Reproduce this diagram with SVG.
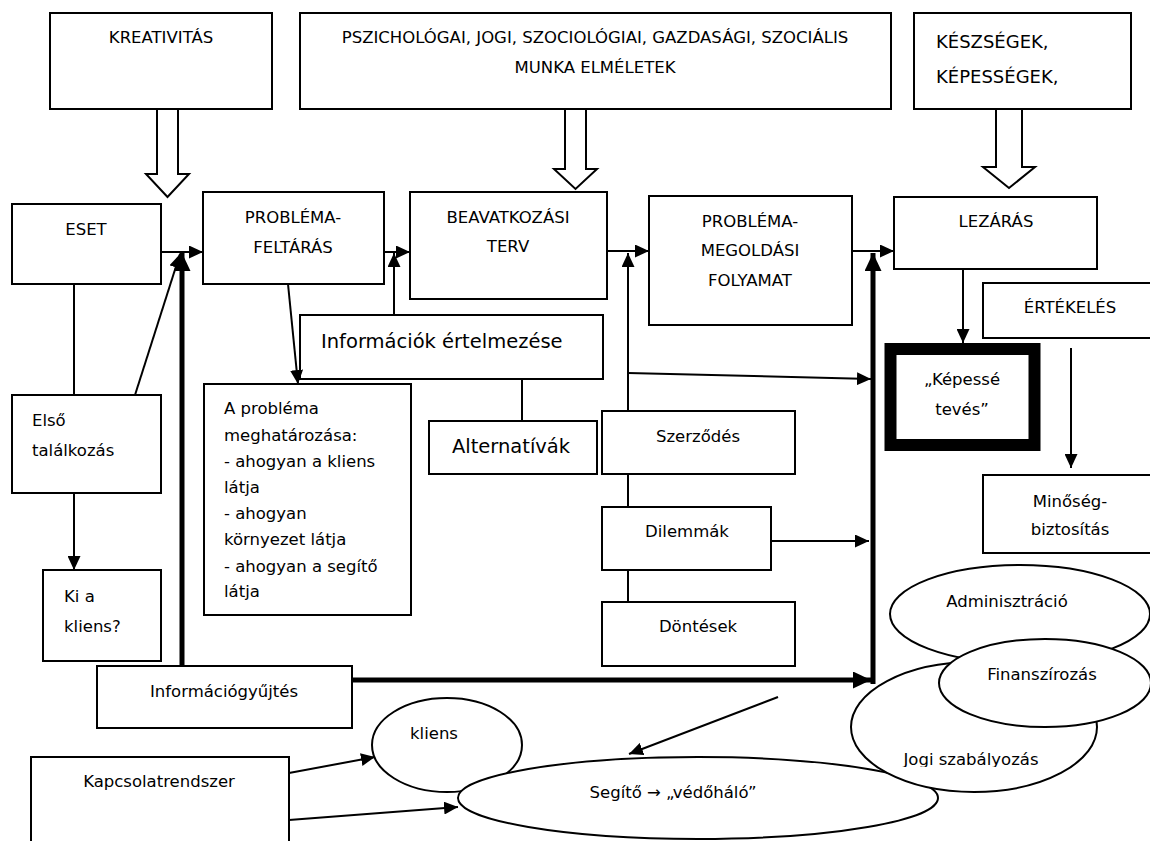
<svg xmlns="http://www.w3.org/2000/svg" width="1150" height="841" viewBox="0 0 1150 841">
<style>
.b{fill:#fff;stroke:#000;stroke-width:2}
.h{fill:#fff;stroke:#000;stroke-width:2;stroke-linejoin:miter}
.e{fill:#fff;stroke:#000;stroke-width:2}
.t{font-family:"DejaVu Sans",sans-serif;font-size:16.5px;fill:#000}
.c{text-anchor:middle}
.big{font-size:19.5px}
.k{font-size:18px}
.l{fill:none;stroke:#000;stroke-width:2}
.L{fill:none;stroke:#000;stroke-width:5}
</style>
<defs>
<marker id="a" viewBox="0 0 14 13" refX="14" refY="6.5" markerWidth="14" markerHeight="13" markerUnits="userSpaceOnUse" orient="auto"><path d="M0,0 L14,6.5 L0,13 z"/></marker>
<marker id="A" viewBox="0 0 18 17" refX="18" refY="8.5" markerWidth="18" markerHeight="17" markerUnits="userSpaceOnUse" orient="auto"><path d="M0,0 L18,8.5 L0,17 z"/></marker>
<clipPath id="jc"><rect x="880" y="740" width="200" height="27"/></clipPath>
</defs>
<rect width="1150" height="841" fill="#fff"/>

<g id="kreativitas"><rect class="b" x="50" y="13" width="222" height="96"/><text class="t c" x="161" y="43">KREATIVITÁS</text></g>
<g id="elmeletek"><rect class="b" x="300" y="13" width="591" height="96"/><text class="t c" x="595" y="43">PSZICHOLÓGAI, JOGI, SZOCIOLÓGIAI, GAZDASÁGI, SZOCIÁLIS</text><text class="t c" x="595" y="73">MUNKA ELMÉLETEK</text></g>
<g id="keszsegek"><rect class="b" x="914" y="13" width="217" height="96"/><text class="t k" x="936" y="48">KÉSZSÉGEK,</text><text class="t k" x="936" y="83">KÉPESSÉGEK,</text></g>

<g id="hollow-arrows">
<polygon class="h" points="157,109 157,174 146,174 167.5,197 189,174 178,174 178,109"/>
<polygon class="h" points="565,109 565,169 554,169 575.5,189 597,169 586,169 586,109"/>
<polygon class="h" points="996,109 996,167 983,167 1009,188 1035,167 1022,167 1022,109"/>
</g>

<g id="eset"><rect class="b" x="12" y="204" width="149" height="80"/><text class="t c" x="86" y="235">ESET</text></g>
<g id="problema-feltaras"><rect class="b" x="203" y="192" width="181" height="92"/><text class="t c" x="293" y="223">PROBLÉMA-</text><text class="t c" x="293" y="253">FELTÁRÁS</text></g>
<g id="beavatkozasi-terv"><rect class="b" x="410" y="192" width="197" height="107"/><text class="t c" x="508" y="223">BEAVATKOZÁSI</text><text class="t c" x="508" y="252">TERV</text></g>
<g id="problema-megoldasi"><rect class="b" x="649" y="196" width="203" height="129"/><text class="t c" x="750" y="227">PROBLÉMA-</text><text class="t c" x="750" y="256">MEGOLDÁSI</text><text class="t c" x="750" y="286">FOLYAMAT</text></g>
<g id="lezaras"><rect class="b" x="894" y="197" width="203" height="72"/><text class="t c" x="996" y="227">LEZÁRÁS</text></g>
<g id="ertekeles"><rect class="b" x="983" y="283" width="180" height="55"/><text class="t c" x="1070" y="313">ÉRTÉKELÉS</text></g>
<g id="kepesse-teves"><rect x="890.5" y="349" width="144" height="96" fill="#fff" stroke="#000" stroke-width="12"/><text class="t c" x="962" y="385">„Képessé</text><text class="t c" x="962" y="415">tevés”</text></g>
<g id="minoseg"><rect class="b" x="983" y="475" width="180" height="78"/><text class="t c" x="1070" y="507">Minőség-</text><text class="t c" x="1070" y="535">biztosítás</text></g>

<g id="informaciok-ertelmezese"><rect class="b" x="300" y="315" width="303" height="64"/><text class="t big" x="321" y="348">Információk értelmezése</text></g>
<g id="a-problema"><rect class="b" x="204" y="384" width="207" height="231"/>
<text class="t" x="224" y="414">A probléma</text>
<text class="t" x="224" y="441">meghatározása:</text>
<text class="t" x="224" y="467">- ahogyan a kliens</text>
<text class="t" x="224" y="493">látja</text>
<text class="t" x="224" y="519">- ahogyan</text>
<text class="t" x="224" y="545">környezet látja</text>
<text class="t" x="224" y="572">- ahogyan a segítő</text>
<text class="t" x="224" y="597">látja</text></g>
<g id="alternativak"><rect class="b" x="429" y="421" width="168" height="53"/><text class="t big c" x="511" y="453">Alternatívák</text></g>
<g id="szerzodes"><rect class="b" x="602" y="411" width="193" height="63"/><text class="t c" x="698" y="442">Szerződés</text></g>
<g id="dilemmak"><rect class="b" x="602" y="507" width="169" height="63"/><text class="t c" x="687" y="537">Dilemmák</text></g>
<g id="dontesek"><rect class="b" x="602" y="602" width="193" height="64"/><text class="t c" x="698" y="632">Döntések</text></g>

<g id="elso-talalkozas"><rect class="b" x="12" y="395" width="149" height="98"/><text class="t" x="32" y="426">Első</text><text class="t" x="32" y="456">találkozás</text></g>
<g id="ki-a-kliens"><rect class="b" x="43" y="570" width="118" height="91"/><text class="t" x="64" y="602">Ki a</text><text class="t" x="64" y="632">kliens?</text></g>
<g id="informaciogyujtes"><rect class="b" x="97" y="666" width="255" height="62"/><text class="t c" x="224" y="697">Információgyűjtés</text></g>
<g id="kapcsolatrendszer"><rect class="b" x="31" y="757" width="258" height="100"/><text class="t c" x="159" y="787">Kapcsolatrendszer</text></g>

<g id="kliens"><ellipse class="e" cx="447" cy="745" rx="75" ry="47"/><text class="t c" x="434" y="739">kliens</text></g>
<g id="segito"><ellipse class="e" cx="698" cy="798" rx="240" ry="41"/><text class="t c" x="673" y="798">Segítő → „védőháló”</text></g>
<g id="adminisztracio"><ellipse class="e" cx="1020" cy="614" rx="130" ry="49"/><text class="t c" x="1007" y="607">Adminisztráció</text></g>
<g id="jogi-szabalyozas"><ellipse class="e" cx="974" cy="727" rx="123" ry="65"/><text class="t c" x="971" y="765" clip-path="url(#jc)">Jogi szabályozás</text></g>
<g id="finanszirozas"><ellipse class="e" cx="1045" cy="683" rx="106" ry="44"/><text class="t c" x="1042" y="680">Finanszírozás</text></g>

<g id="connectors">
<line class="l" x1="161" y1="252" x2="203" y2="252" marker-end="url(#a)"/>
<line class="l" x1="384" y1="252" x2="410" y2="252" marker-end="url(#a)"/>
<line class="l" x1="607" y1="251" x2="649" y2="251" marker-end="url(#a)"/>
<line class="l" x1="852" y1="251" x2="894" y2="251" marker-end="url(#a)"/>
<line class="l" x1="135" y1="395" x2="180" y2="254" marker-end="url(#a)"/>
<line class="L" x1="182" y1="666" x2="182" y2="253" marker-end="url(#A)"/>
<line class="l" x1="74" y1="284" x2="74" y2="395"/>
<line class="l" x1="74" y1="493" x2="74" y2="570" marker-end="url(#a)"/>
<line class="l" x1="288" y1="284" x2="298" y2="384" marker-end="url(#a)"/>
<line class="l" x1="394" y1="315" x2="394" y2="253" marker-end="url(#a)"/>
<line class="l" x1="522" y1="379" x2="522" y2="421"/>
<line class="l" x1="628" y1="411" x2="628" y2="253" marker-end="url(#a)"/>
<line class="l" x1="628" y1="373" x2="871" y2="379" marker-end="url(#a)"/>
<line class="l" x1="628" y1="474" x2="628" y2="507"/>
<line class="l" x1="628" y1="570" x2="628" y2="602"/>
<line class="l" x1="771" y1="541" x2="869" y2="541" marker-end="url(#a)"/>
<line class="L" x1="352" y1="680" x2="871" y2="680" marker-end="url(#A)"/>
<line class="L" x1="873" y1="684" x2="873" y2="253" marker-end="url(#A)"/>
<line class="l" x1="963" y1="269" x2="963" y2="343" marker-end="url(#a)"/>
<line class="l" x1="1071" y1="348" x2="1071" y2="468" marker-end="url(#a)"/>
<line class="l" x1="778" y1="697" x2="629" y2="754" marker-end="url(#a)"/>
<line class="l" x1="289" y1="773" x2="375" y2="757" marker-end="url(#a)"/>
<line class="l" x1="289" y1="820" x2="458" y2="807" marker-end="url(#a)"/>
</g>
</svg>
